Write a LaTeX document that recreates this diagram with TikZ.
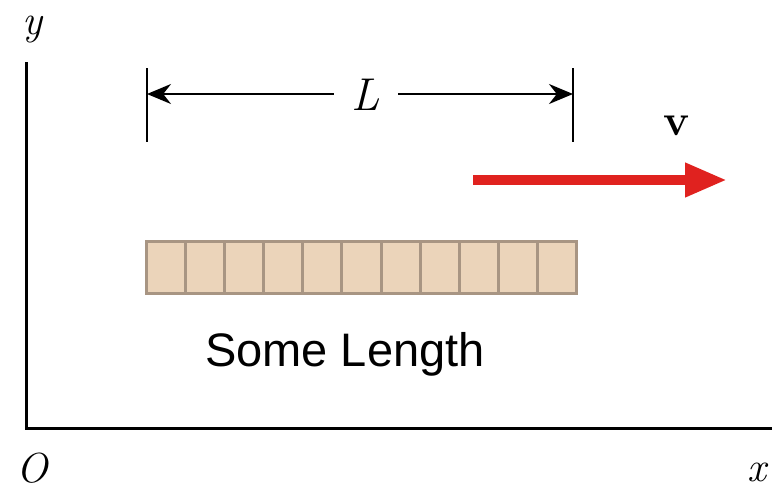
\documentclass[tikz,border=0pt]{standalone}
\usepackage{fontspec}
\newfontfamily\arialish{Liberation Sans}
\usetikzlibrary{arrows.meta}
\definecolor{barfill}{HTML}{EBD4BA}
\definecolor{bardraw}{HTML}{A89583}
\definecolor{velred}{HTML}{E0221F}
\begin{document}
\begin{tikzpicture}[x=1pt,y=-1pt,
  axis/.style={line width=3pt},
  tick/.style={line width=2pt},
  dimarrow/.style={line width=2pt,-{Stealth[length=24pt,width=20pt]}},
  cell/.style={draw=bardraw,fill=barfill,line width=3pt,minimum width=39.09pt,minimum height=52pt,inner sep=0pt,outer sep=0pt},
  mathlbl/.style={font=\fontsize{42}{46}\selectfont\itshape,inner sep=0pt}]
\useasboundingbox (0,0) rectangle (772,491);
% axes
\coordinate (ytop) at (26,62);
\coordinate (orig) at (26,428);
\coordinate (xend) at (772,428);
\draw[axis] (ytop) -- (orig) -- (xend);
\node[mathlbl] (ylab) at (32,30) {y};
\node[mathlbl] (olab) at (32,468) {O};
\node[mathlbl] (xlab) at (757,472) {x};
% dimension L
\coordinate (lt1) at (147,68);
\coordinate (lt2) at (147,142);
\coordinate (rt1) at (573,68);
\coordinate (rt2) at (573,142);
\draw[tick] (lt1) -- (lt2);
\draw[tick] (rt1) -- (rt2);
\coordinate (la) at (147,94);
\coordinate (ra) at (573,94);
\node[mathlbl,font=\fontsize{46}{50}\selectfont\itshape,minimum width=64pt] (L) at (366,95) {L};
\draw[dimarrow] (L.west |- la) -- (la);
\draw[dimarrow] (L.east |- ra) -- (ra);
% velocity
\node[font=\fontsize{44}{48}\selectfont\bfseries,inner sep=0pt] (v) at (677,126) {v};
\coordinate (vs) at (473,180);
\coordinate (ve) at (727,180);
\draw[velred,line width=10pt,-{Triangle[length=42pt,width=32pt]}] (vs) -- (ve);
% bar
\foreach \i in {0,...,10}{
  \node[cell] (c\i) at ({146.5+39.09*\i+19.545},267) {};
}
\node[font=\arialish\fontsize{47}{50}\selectfont,inner sep=0pt] (some) at (345,354) {Some Length};
\end{tikzpicture}
\end{document}
